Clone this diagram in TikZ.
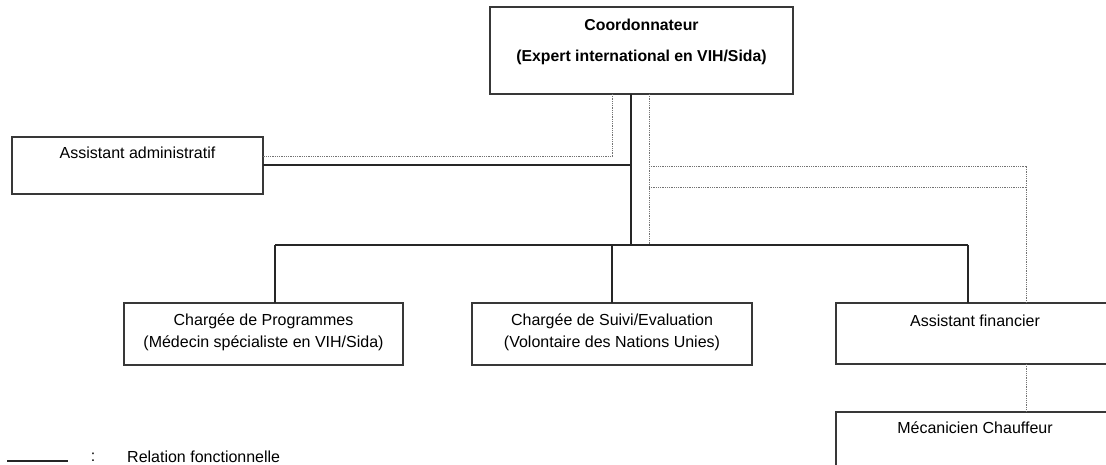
\documentclass[tikz,border=0pt]{standalone}
\usepackage{fontspec}
\setmainfont{Liberation Sans}
\begin{document}
\begin{tikzpicture}[x=1pt,y=-1pt,
 box/.style={draw=black!78, line width=1.4pt, anchor=north west, inner sep=0pt, outer sep=0pt},
 txt/.style={font=\fontsize{16}{22}\selectfont, align=center, inner sep=0pt},
 btxt/.style={font=\fontsize{15.8}{22}\selectfont\bfseries, inner sep=0pt},
 rel/.style={draw=black!85, line width=1.1pt},
 hier/.style={draw=black!55, line width=0.9pt, dash pattern=on 1pt off 0.8pt},
]
\useasboundingbox (0,0) rectangle (1106,464);
\clip (0,0) rectangle (1106,464);
% boxes
\node[box, minimum width=303pt, minimum height=87pt] (coord) at (490,7) {};
\node[box, minimum width=251pt, minimum height=57pt] (admin) at (12,137) {};
\node[box, minimum width=279pt, minimum height=62pt] (prog) at (124,303) {};
\node[box, minimum width=280pt, minimum height=62pt] (suivi) at (472,303) {};
\node[box, minimum width=278pt, minimum height=61pt] (fin) at (836,303) {};
\node[box, minimum width=278pt, minimum height=70pt] (meca) at (836,412) {};
% texts
\node[btxt] (tcoord1) at (641.5,25) {Coordonnateur};
\node[btxt] (tcoord2) at (641.5,57) {(Expert international en VIH/Sida)};
\node[txt] (tadmin) at (137.5,153) {Assistant administratif};
\node[txt] (tprog) at (263.5,332) {Chargée de Programmes\\(Médecin spécialiste en VIH/Sida)};
\node[txt] (tsuivi) at (612,332) {Chargée de Suivi/Evaluation\\(Volontaire des Nations Unies)};
\node[txt] (tfin) at (975,321) {Assistant financier};
\node[txt] (tmeca) at (975,428) {Mécanicien Chauffeur};
% junction coordinates
\coordinate (busC) at (631,245);
\coordinate (busL) at (275,245);
\coordinate (busM) at (612,245);
\coordinate (busR) at (968,245);
\coordinate (aS) at (631,165);
\coordinate (dA) at (612,156);
\coordinate (dR) at (649,245);
\coordinate (h1L) at (649,166);
\coordinate (h1R) at (1026,166);
\coordinate (h2L) at (649,187);
\coordinate (h2R) at (1026,187);
% solid relations
\draw[rel] (coord.south -| busC) -- (busC);
\draw[rel] (busL) -- (busR);
\draw[rel] (busL) -- (prog.north -| busL);
\draw[rel] (busM) -- (suivi.north -| busM);
\draw[rel] (busR) -- (fin.north -| busR);
\draw[rel] (admin.east |- aS) -- (aS);
% dotted relations
\draw[hier] (coord.south -| dA) -- (dA) -- (admin.east |- dA);
\draw[hier] (coord.south -| dR) -- (dR);
\draw[hier] (h1L) -- (h1R) -- (fin.north -| h1R);
\draw[hier] (h2L) -- (h2R);
\draw[hier] (fin.south -| h1R) -- (meca.north -| h1R);
% legend
\coordinate (lg1) at (7,461);
\coordinate (lg2) at (68,461);
\draw[rel] (lg1) -- (lg2);
\node[txt] (colon) at (93,457) {:};
\node[txt, anchor=west] (tleg) at (127,457) {Relation fonctionnelle};
\end{tikzpicture}
\end{document}
